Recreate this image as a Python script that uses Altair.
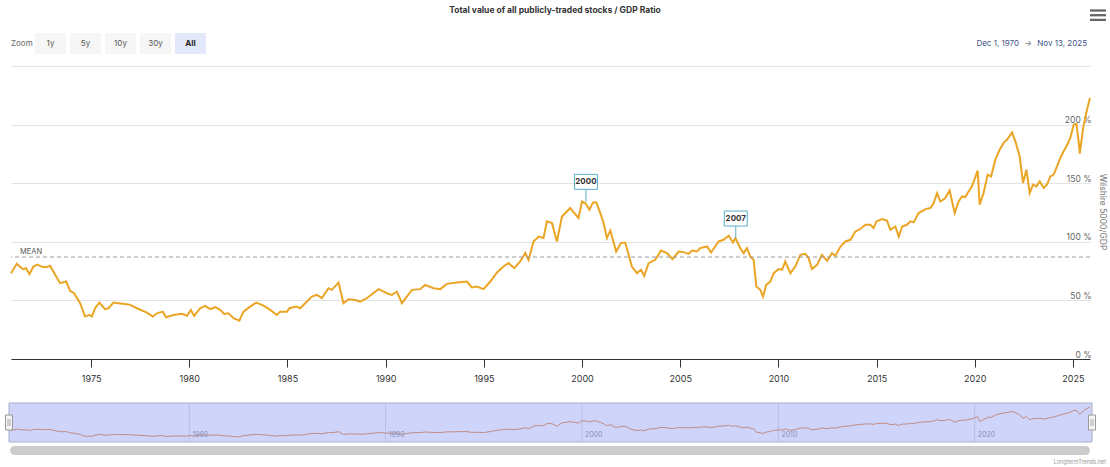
import altair as alt
import pandas as pd

# ---------------- data ----------------
years = [1970.92, 1971.21, 1971.52, 1971.69, 1971.86, 1972.06, 1972.26, 1972.54, 1972.74, 1972.91,
         1973.17, 1973.42, 1973.73, 1973.93, 1974.13, 1974.44, 1974.69, 1974.91, 1975.04, 1975.20,
         1975.42, 1975.71, 1975.88, 1976.14, 1976.39, 1976.82, 1976.99, 1977.33, 1977.84, 1978.14,
         1978.35, 1978.65, 1978.82, 1979.19, 1979.62, 1979.88, 1980.08, 1980.25, 1980.55, 1980.81,
         1981.06, 1981.32, 1981.57, 1981.78, 1981.99, 1982.25, 1982.55, 1982.76, 1983.10, 1983.41,
         1983.78, 1984.12, 1984.46, 1984.63, 1984.97, 1985.10, 1985.44, 1985.65, 1985.90, 1986.24,
         1986.50, 1986.75, 1987.09, 1987.26, 1987.60, 1987.85, 1988.11, 1988.45, 1988.70, 1989.04,
         1989.64, 1990.06, 1990.31, 1990.57, 1990.83, 1991.08, 1991.34, 1991.76, 1992.01, 1992.44,
         1992.78, 1993.12, 1993.63, 1994.14, 1994.39, 1994.65, 1994.98, 1995.33, 1995.67, 1996.00,
         1996.26, 1996.55, 1996.85, 1997.11, 1997.28, 1997.53, 1997.79, 1998.04, 1998.21, 1998.47,
         1998.72, 1998.98, 1999.23, 1999.40, 1999.61, 1999.82, 2000.00, 2000.17, 2000.38, 2000.56,
         2000.73, 2000.93, 2001.10, 2001.27, 2001.44, 2001.74, 2001.98, 2002.20, 2002.54, 2002.80,
         2003.00, 2003.17, 2003.39, 2003.73, 2004.02, 2004.33, 2004.61, 2004.92, 2005.17, 2005.43,
         2005.60, 2005.86, 2006.02, 2006.37, 2006.57, 2006.96, 2007.21, 2007.47, 2007.69, 2007.81,
         2008.06, 2008.23, 2008.40, 2008.57, 2008.74, 2008.88, 2009.08, 2009.22, 2009.38, 2009.59,
         2009.76, 2010.01, 2010.19, 2010.35, 2010.61, 2010.86, 2011.12, 2011.37, 2011.54, 2011.71,
         2011.97, 2012.22, 2012.48, 2012.73, 2012.90, 2013.16, 2013.41, 2013.67, 2013.92, 2014.17,
         2014.43, 2014.68, 2014.85, 2014.99, 2015.28, 2015.53, 2015.70, 2015.96, 2016.13, 2016.30,
         2016.55, 2016.72, 2016.89, 2017.14, 2017.49, 2017.74, 2017.91, 2018.08, 2018.25, 2018.50,
         2018.72, 2018.98, 2019.18, 2019.35, 2019.52, 2019.64, 2019.86, 2020.15, 2020.25, 2020.45,
         2020.66, 2020.83, 2021.05, 2021.27, 2021.47, 2021.65, 2021.90, 2022.07, 2022.29, 2022.46,
         2022.63, 2022.80, 2022.97, 2023.14, 2023.31, 2023.51, 2023.68, 2023.85, 2024.02, 2024.19,
         2024.36, 2024.53, 2024.67, 2024.87, 2025.04, 2025.18, 2025.30, 2025.35, 2025.52, 2025.72,
         2025.87]

ratio = [73.2, 81.2, 76.7, 77.5, 72.4, 78.9, 80.6, 78.4, 78.4, 79.5,
         71.8, 64.7, 66.1, 58.1, 56.1, 47.6, 36.2, 37.6, 36.2, 43.3,
         48.1, 42.5, 43.3, 48.1, 47.6, 46.7, 46.2, 43.3, 39.6, 36.2,
         39.0, 40.4, 35.6, 37.6, 38.5, 36.9, 41.9, 36.8, 43.3, 45.3,
         42.5, 44.2, 41.9, 38.5, 39.0, 34.8, 32.7, 40.4, 44.7, 48.1,
         45.6, 41.9, 37.6, 40.4, 40.4, 43.3, 44.7, 43.3, 47.6, 53.3,
         54.7, 51.9, 60.4, 59.0, 65.2, 47.6, 51.0, 50.4, 49.0, 51.9,
         59.6, 56.1, 54.7, 57.5, 47.6, 53.2, 59.0, 59.6, 63.2, 60.4,
         59.6, 64.1, 65.2, 66.1, 61.0, 61.8, 59.6, 66.1, 73.8, 78.9,
         81.8, 77.5, 83.2, 90.3, 84.6, 100.3, 104.5, 103.2, 117.4, 116.0,
         100.3, 121.6, 125.9, 128.8, 124.5, 120.3, 134.4, 133.1, 127.4, 133.6,
         133.6, 124.5, 116.0, 103.2, 109.7, 91.7, 98.9, 99.4, 78.9, 73.2,
         76.1, 70.9, 81.8, 84.6, 92.6, 90.3, 85.2, 91.7, 91.2, 89.7,
         92.6, 91.7, 94.6, 96.0, 90.9, 100.3, 101.7, 105.1, 99.4, 103.2,
         94.5, 90.3, 94.6, 87.4, 84.6, 61.8, 59.0, 53.2, 63.2, 66.1,
         73.2, 76.7, 76.1, 83.2, 73.2, 78.9, 88.9, 89.7, 86.1, 76.7,
         80.3, 88.9, 83.8, 90.3, 88.0, 96.0, 100.3, 101.7, 108.8, 110.9,
         114.5, 114.5, 111.7, 117.4, 119.4, 118.2, 110.3, 113.1, 104.5, 113.1,
         114.5, 117.4, 116.6, 124.5, 127.9, 128.8, 133.1, 141.6, 134.4, 137.3,
         143.8, 124.5, 134.4, 138.7, 138.2, 141.6, 147.3, 160.7, 131.6, 141.6,
         157.3, 155.8, 170.1, 178.6, 184.4, 187.2, 193.4, 185.7, 172.9, 150.2,
         161.5, 141.6, 148.7, 147.3, 151.5, 145.9, 148.7, 155.8, 157.3, 164.4,
         171.5, 177.2, 181.5, 188.6, 200.0, 200.6, 184.4, 175.2, 197.2, 212.8,
         222.8]

mean_ratio = 87
x_ticks = [1975, 1980, 1985, 1990, 1995, 2000, 2005, 2010, 2015, 2020, 2025]
y_ticks = [0, 50, 100, 150, 200, 250]
nav_ticks = [1980, 1990, 2000, 2010, 2020]
ann_labels = ["2000", "2007"]
ann_years = [2000.2, 2007.83]
ann_values = [134.5, 103.2]

title_text = "Total value of all publicly-traded stocks / GDP Ratio"
y_title = "Wilshire 5000/GDP"
zoom_label = "Zoom"
zoom_buttons = ["1y", "5y", "10y", "30y", "All"]
range_start = "Dec 1, 1970"
range_end = "Nov 13, 2025"
credit = "LongtermTrends.net"

# ---------------- layout ----------------
PL, PT, PR, PB = 11, 66, 20, 108
W, H = 1110 - PL - PR, 467 - PT - PB
FONT = "Inter"


def X(a):
    return a - PL


def Y(a):
    return a - PT


df = pd.DataFrame({"year": years, "ratio": ratio})
one = pd.DataFrame({"k": [0]})

xscale = alt.Scale(domain=[years[0], years[-1]], nice=False, zero=False)
yscale = alt.Scale(domain=[0, 250], nice=False)

xenc = alt.X(
    "year:Q",
    scale=xscale,
    axis=alt.Axis(
        values=x_ticks, format="d", title=None, grid=False, tickSize=8,
        tickColor="#333333", domainColor="#333333", labelColor="#333333",
        labelFontSize=9, labelPadding=7, labelFlush=False, labelFont=FONT,
    ),
)

yaxis = alt.Axis(
    orient="right", values=y_ticks, grid=True, gridColor="#e3e3e3", domain=False,
    ticks=False, labelAlign="right", labelPadding=1, labelBaseline="alphabetic",
    labelOffset=-2, labelExpr="datum.value >= 250 ? '' : datum.value + ' %'",
    labelColor="#666666", labelFontSize=8.5, labelFont=FONT, title=None, labelFlush=False,
)


def yenc(field):
    return alt.Y(field, scale=yscale, axis=yaxis)


main_line = alt.Chart(df).mark_line(color="#eba524", strokeWidth=2).encode(
    x=xenc, y=yenc("ratio:Q")
)

mean_df = pd.DataFrame({"ratio": [mean_ratio]})
mean_rule = alt.Chart(mean_df).mark_rule(color="#9a9a9a", strokeDash=[4, 3], strokeWidth=1).encode(
    y=yenc("ratio:Q")
)
mean_text = alt.Chart(mean_df).mark_text(
    text="MEAN", align="left", baseline="alphabetic", dy=-3, fontSize=7.5, color="#555555", font=FONT
).encode(x=alt.value(X(20)), y=yenc("ratio:Q"))

ann_df = pd.DataFrame({"year": ann_years, "ratio": ann_values, "label": ann_labels})
ann_box = alt.Chart(ann_df).mark_point(
    shape="M-11.5,-27H11.5V-12H-11.5Z M0,-12V0", size=4, filled=True, fill="white",
    stroke="#5aaec8", strokeWidth=1, opacity=1,
).encode(x=xenc, y=yenc("ratio:Q"))
ann_text = alt.Chart(ann_df).mark_text(
    dy=-19.5, fontSize=8, fontWeight="bold", color="#333333", font=FONT, baseline="middle"
).encode(x=xenc, y=yenc("ratio:Q"), text="label:N")

main = alt.layer(main_line, mean_rule, mean_text, ann_box, ann_text)

# y-axis title (text)
ytitle = alt.Chart(one).mark_text(
    text=y_title, angle=90, fontSize=8.5, color="#777777", font=FONT, align="center", baseline="middle"
).encode(x=alt.value(X(1103)), y=alt.value(Y(212)))

# ---------------- header ----------------
header = [
    alt.Chart(one).mark_text(
        text=title_text, fontSize=8.5, fontWeight="bold", color="#333333", font=FONT,
        align="center", baseline="middle",
    ).encode(x=alt.value(X(555)), y=alt.value(Y(10))),
    alt.Chart(one).mark_text(
        text=zoom_label, fontSize=8, color="#666666", font=FONT, align="left", baseline="middle"
    ).encode(x=alt.value(X(11)), y=alt.value(Y(44))),
]
for hy in (10.5, 15.2, 19.9):
    header.append(
        alt.Chart(one).mark_rule(color="#666666", strokeWidth=2.3).encode(
            x=alt.value(X(1090)), x2=alt.value(X(1106)), y=alt.value(Y(hy))
        )
    )
for i, lab in enumerate(zoom_buttons):
    x0 = 35 + 35 * i
    sel = lab == "All"
    header.append(
        alt.Chart(one).mark_rect(fill="#e4e8fb" if sel else "#f6f6f6").encode(
            x=alt.value(X(x0)), x2=alt.value(X(x0 + 31)), y=alt.value(Y(33)), y2=alt.value(Y(54))
        )
    )
    header.append(
        alt.Chart(one).mark_text(
            text=lab, fontSize=8, fontWeight="bold" if sel else "normal",
            color="#222222" if sel else "#555555", font=FONT, align="center", baseline="middle",
        ).encode(x=alt.value(X(x0 + 15.5)), y=alt.value(Y(44)))
    )
header += [
    alt.Chart(one).mark_text(
        text=range_start, fontSize=8, color="#3f5486", font=FONT, align="right", baseline="middle"
    ).encode(x=alt.value(X(1019)), y=alt.value(Y(43.5))),
    alt.Chart(one).mark_text(
        text="\u2192", fontSize=8, color="#777777", font=FONT, align="center", baseline="middle"
    ).encode(x=alt.value(X(1028)), y=alt.value(Y(43.5))),
    alt.Chart(one).mark_text(
        text=range_end, fontSize=8, color="#3f5486", font=FONT, align="right", baseline="middle"
    ).encode(x=alt.value(X(1087)), y=alt.value(Y(43.5))),
]

# ---------------- navigator ----------------
nav_bg = alt.Chart(one).mark_rect(fill="#cfd5fa", stroke="#a9aec8", strokeWidth=1).encode(
    x=alt.value(X(9)), x2=alt.value(X(1092)), y=alt.value(Y(403)), y2=alt.value(Y(442))
)
nav_tick_df = pd.DataFrame({"year": nav_ticks, "lab": [str(t) for t in nav_ticks]})
nav_grid = alt.Chart(nav_tick_df).mark_rule(color="#b7bde6", strokeWidth=1).encode(
    x=xenc, y=alt.value(Y(403)), y2=alt.value(Y(442))
)
nav_labels = alt.Chart(nav_tick_df).mark_text(
    fontSize=7, color="#8a90b8", font=FONT, align="left", baseline="middle", dx=3
).encode(x=xenc, y=alt.value(Y(435)), text="lab:N")
nav_line = alt.Chart(df).mark_line(color="#c08c86", strokeWidth=1).encode(
    x=xenc,
    y=alt.Y("ratio:Q", scale=alt.Scale(domain=[0, 225], range=[Y(442), Y(406.5)], nice=False), axis=None),
)
handles = []
for hx in (9, 1092):
    handles.append(
        alt.Chart(one).mark_rect(fill="#f4f4f4", stroke="#999999", strokeWidth=1).encode(
            x=alt.value(X(hx - 3.5)), x2=alt.value(X(hx + 3.5)), y=alt.value(Y(415)), y2=alt.value(Y(430))
        )
    )
    for dx in (-1, 1):
        handles.append(
            alt.Chart(one).mark_rule(color="#999999", strokeWidth=0.8).encode(
                x=alt.value(X(hx + dx)), y=alt.value(Y(419)), y2=alt.value(Y(426))
            )
        )
scrollbar = alt.Chart(one).mark_rect(fill="#cccccc", cornerRadius=5).encode(
    x=alt.value(X(10)), x2=alt.value(X(1090)), y=alt.value(Y(446)), y2=alt.value(Y(455))
)
credit_txt = alt.Chart(one).mark_text(
    text=credit, fontSize=5.5, color="#999999", font=FONT, align="right", baseline="middle"
).encode(x=alt.value(X(1106)), y=alt.value(Y(462)))

chart = alt.layer(
    *header, main, ytitle, nav_bg, nav_grid, nav_line, nav_labels, *handles, scrollbar, credit_txt
).resolve_scale(y="independent").properties(
    width=W, height=H, autosize=alt.AutoSizeParams(type="none"),
    padding={"left": PL, "top": PT, "right": PR, "bottom": PB},
).configure(
    font=FONT, background="white", view=alt.ViewConfig(stroke=None)
)

chart.save("out.html", embed_options={"renderer": "svg", "actions": False})
